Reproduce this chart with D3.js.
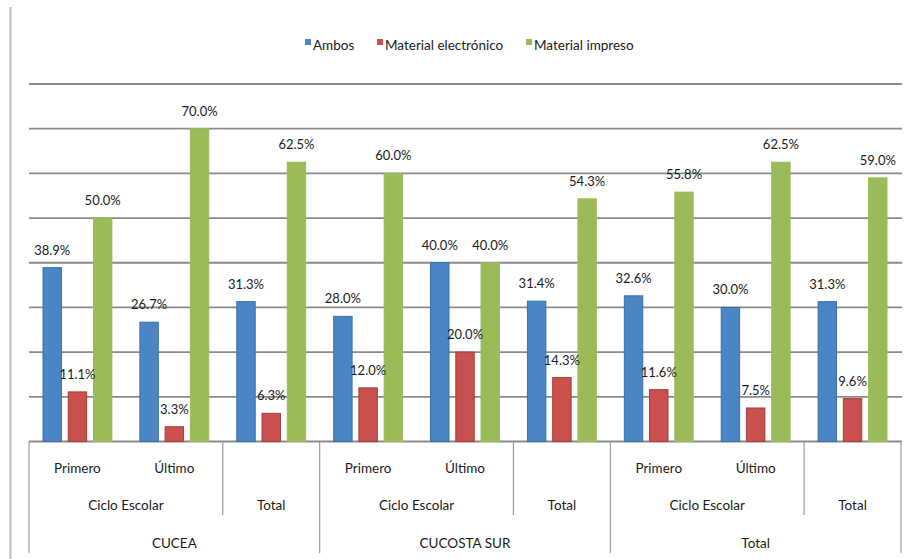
<!DOCTYPE html>
<html lang="es">
<head>
<meta charset="UTF-8">
<title>Material</title>
<style>
  body { margin: 0; background: #fff; }
  text { font-family: "Lato", sans-serif; fill: #1a1a1a; }
</style>
</head>
<body>
<svg width="906" height="559"></svg>
<script src="https://cdn.jsdelivr.net/npm/d3@7"></script>
<script>
// datos
var grupos = ["CUCEA", "CUCOSTA SUR", "Total"];
var subcats = ["Primero", "Último", "Total"];
var series = ["Ambos", "Material electrónico", "Material impreso"];
var ambos = [38.9, 26.7, 31.3, 28.0, 40.0, 31.4, 32.6, 30.0, 31.3];
var electronico = [11.1, 3.3, 6.3, 12.0, 20.0, 14.3, 11.6, 7.5, 9.6];
var impreso = [50.0, 70.0, 62.5, 60.0, 40.0, 54.3, 55.8, 62.5, 59.0];
var yTicks = [0, 10, 20, 30, 40, 50, 60, 70, 80];

var colores = ["#4a86c6", "#c9504c", "#9bbb59"];
var bordes = ["#3a6fa8", "#a83c39", "#9bbb59"];

var svg = d3.select("svg");
var mIzq = 29, mDer = 901, mSup = 84, base = 441.5;

// categorias: grupo|subcategoria
var cats = [];
grupos.forEach(function(g){ subcats.forEach(function(s){ cats.push(g + "|" + s); }); });

var x = d3.scaleBand().domain(cats).range([mIzq, mDer]);
var y = d3.scaleLinear().domain([0, 80]).range([base, mSup]);
var x1 = d3.scaleBand().domain(series).range([14, x.bandwidth() - 14]).paddingInner(0.27);

// borde izquierdo del grafico
svg.append("line").attr("x1", 10.5).attr("x2", 10.5).attr("y1", 7).attr("y2", 559)
  .attr("stroke", "#bdbdbd").attr("stroke-width", 2);

// lineas de la cuadricula
svg.append("g").selectAll("line").data(yTicks).enter().append("line")
  .attr("x1", mIzq).attr("x2", mDer + 1)
  .attr("y1", function(d){ return y(d); }).attr("y2", function(d){ return y(d); })
  .attr("stroke", "#8a8a8a").attr("stroke-width", 1.8);

// barras
var valores = [ambos, electronico, impreso];
var filas = [];
cats.forEach(function(c, i){
  series.forEach(function(s, j){ filas.push({cat: c, serie: s, j: j, v: valores[j][i]}); });
});

var barras = svg.append("g");
barras.selectAll("rect").data(filas).enter().append("rect")
  .attr("x", function(d){ return x(d.cat) + x1(d.serie); })
  .attr("y", function(d){ return y(d.v); })
  .attr("width", x1.bandwidth())
  .attr("height", function(d){ return base - y(d.v); })
  .attr("fill", function(d){ return colores[d.j]; })
  .attr("stroke", function(d){ return bordes[d.j]; })
  .attr("stroke-width", 1);

// etiquetas de datos
barras.selectAll("text").data(filas).enter().append("text")
  .attr("x", function(d){ return x(d.cat) + x1(d.serie) + x1.bandwidth() / 2; })
  .attr("y", function(d){ return y(d.v) - 13; })
  .attr("text-anchor", "middle")
  .attr("font-size", 13)
  .text(function(d){ return d.v.toFixed(1) + "%"; });

// eje de categorias en varios niveles
var ax = svg.append("g");
var gw = x.bandwidth() * 3;
ax.selectAll("text.sub").data(cats.filter(function(c){ return c.split("|")[1] != "Total"; }))
  .enter().append("text")
  .attr("x", function(d){ return x(d) + x.bandwidth() / 2; })
  .attr("y", 473).attr("text-anchor", "middle").attr("font-size", 13.5)
  .text(function(d){ return d.split("|")[1]; });
ax.selectAll("text.mid").data(grupos).enter().append("text")
  .attr("x", function(d){ return x(d + "|Primero") + x.bandwidth(); })
  .attr("y", 510).attr("text-anchor", "middle").attr("font-size", 13.5)
  .text("Ciclo Escolar");
ax.selectAll("text.tot").data(grupos).enter().append("text")
  .attr("x", function(d){ return x(d + "|Total") + x.bandwidth() / 2; })
  .attr("y", 510).attr("text-anchor", "middle").attr("font-size", 13.5)
  .text("Total");
ax.selectAll("text.grp").data(grupos).enter().append("text")
  .attr("x", function(d){ return x(d + "|Primero") + gw / 2; })
  .attr("y", 548).attr("text-anchor", "middle").attr("font-size", 13.5)
  .text(function(d){ return d; });

// separadores
var largos = grupos.map(function(g){ return x(g + "|Primero"); }).concat([mDer]);
ax.selectAll("line.l").data(largos).enter().append("line")
  .attr("x1", function(d){ return d; }).attr("x2", function(d){ return d; })
  .attr("y1", base).attr("y2", 553)
  .attr("stroke", "#9a9a9a").attr("stroke-width", 1.2);
ax.selectAll("line.c").data(grupos).enter().append("line")
  .attr("x1", function(d){ return x(d + "|Total"); }).attr("x2", function(d){ return x(d + "|Total"); })
  .attr("y1", base).attr("y2", 515)
  .attr("stroke", "#9a9a9a").attr("stroke-width", 1.2);

// leyenda
var leyX = [305, 377, 526];
var ley = svg.append("g").selectAll("g").data(series).enter().append("g")
  .attr("transform", function(d, i){ return "translate(" + leyX[i] + ",0)"; });
ley.append("rect").attr("x", 0).attr("y", 39).attr("width", 6).attr("height", 6)
  .attr("fill", function(d, i){ return colores[i]; });
ley.append("text").attr("x", 8).attr("y", 50).attr("font-size", 13.5)
  .text(function(d){ return d; });
</script>
</body>
</html>
